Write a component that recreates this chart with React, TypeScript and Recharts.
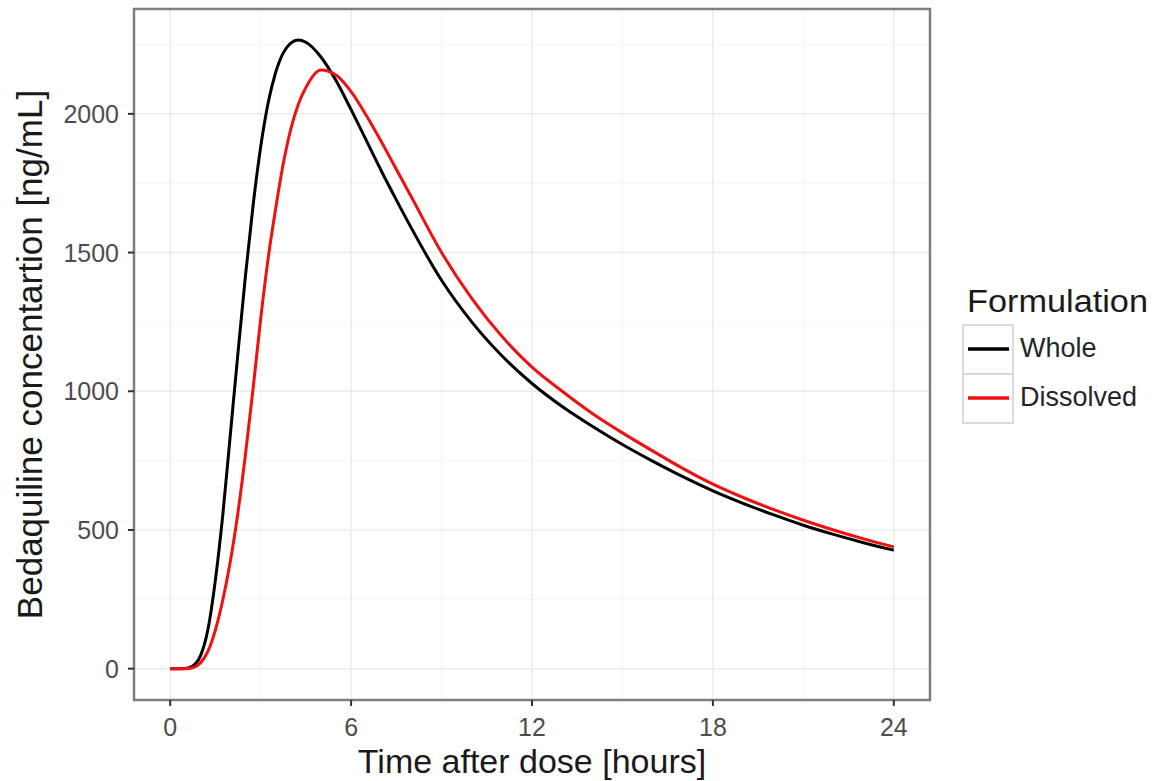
import React from "react";
import { LineChart, Line, XAxis, YAxis, CartesianGrid, Legend, ReferenceArea } from "recharts";

// time after dose, hours
const hours = [
  0, 0.5, 0.75, 1, 1.25, 1.5, 1.75, 2, 2.25, 2.5, 2.75, 3, 3.25, 3.5, 3.75, 4, 4.25, 4.5, 5, 5.5,
  6, 6.5, 7, 7.5, 8, 9, 10, 11, 12, 13, 14, 15, 16, 17, 18, 19, 20, 21, 22, 23, 24,
];

// bedaquiline concentration, ng/mL
const whole = [
  0, 1, 10, 45, 140, 320, 560, 850, 1140, 1420, 1670, 1880, 2040, 2150, 2220, 2255, 2266, 2258, 2205, 2120,
  2015, 1905, 1795, 1690, 1588, 1400, 1250, 1128, 1028, 945, 874, 808, 748, 692, 641, 596, 555, 517, 484, 454, 427,
];
const dissolved = [
  0, 0, 3, 20, 62, 140, 250, 390, 565, 775, 1010, 1260, 1480, 1660, 1820, 1945, 2035, 2095, 2158, 2140,
  2080, 1995, 1900, 1800, 1700, 1500, 1335, 1198, 1087, 1000, 920, 850, 785, 722, 665, 617, 574, 535, 500, 468, 439,
];

const seriesNames = ["Whole", "Dissolved"];
const xTicks = [0, 6, 12, 18, 24];
const yTicks = [0, 500, 1000, 1500, 2000];
const xMinor = [3, 9, 15, 21];
const yMinor = [250, 750, 1250, 1750, 2250];

const FONT = '"Liberation Sans", Arial, Helvetica, sans-serif';
const X_MIN = -1.2;
const X_MAX = 25.2;
const Y_MIN = -113;
const Y_MAX = 2378;

const data = hours.map((t, i) => ({ time: t, whole: whole[i], dissolved: dissolved[i] }));

const XTick = (props: any) => {
  const { x, y, payload } = props;
  return (
    <text x={x} y={y + 28} textAnchor="middle" fontSize={25} fill="#4d4d4d" fontFamily={FONT}>
      {payload.value}
    </text>
  );
};

const YTick = (props: any) => {
  const { x, y, payload } = props;
  return (
    <text x={x} y={y + 9} textAnchor="end" fontSize={25} fill="#4d4d4d" fontFamily={FONT}>
      {payload.value}
    </text>
  );
};

const XTitle = (props: any) => {
  const vb = props.viewBox || {};
  return (
    <text x={vb.x + vb.width / 2} y={773} textAnchor="middle" fontSize={34} fill="#1a1a1a" fontFamily={FONT}>
      Time after dose [hours]
    </text>
  );
};

const YTitle = (props: any) => {
  const vb = props.viewBox || {};
  const cy = vb.y + vb.height / 2;
  return (
    <text
      transform={`translate(42, ${cy}) rotate(-90)`}
      textAnchor="middle"
      fontSize={35}
      fill="#1a1a1a"
      fontFamily={FONT}
    >
      Bedaquiline concentartion [ng/mL]
    </text>
  );
};

const LegendBox = (props: any) => {
  const items = [...(props.payload || [])].sort(
    (a: any, b: any) => seriesNames.indexOf(a.value) - seriesNames.indexOf(b.value)
  );
  return (
    <svg width={194} height={150} style={{ display: "block" }}>
      <text x={7} y={32} fontSize={31} textLength={181} lengthAdjust="spacingAndGlyphs" fill="#1a1a1a" fontFamily={FONT}>
        Formulation
      </text>
      {items.map((item: any, i: number) => {
        const top = 45 + i * 49;
        return (
          <g key={item.value}>
            <rect x={3} y={top} width={50} height={49} fill="#fff" stroke="#cfcfcf" strokeWidth={1.5} />
            <line x1={8} x2={49} y1={top + 24} y2={top + 24} stroke={item.color} strokeWidth={3.5} />
            <text x={60} y={top + 32} fontSize={27} fill="#262626" fontFamily={FONT}>
              {item.value}
            </text>
          </g>
        );
      })}
    </svg>
  );
};

export default function App() {
  return (
    <div style={{ position: "absolute", left: 0, top: 0, background: "#fff" }}>
      <LineChart width={1154} height={781} data={data} margin={{ top: 9, right: 224, bottom: 0, left: 0 }}>
        <CartesianGrid verticalValues={xMinor} horizontalValues={yMinor} stroke="#f5f5f5" strokeWidth={1} />
        <CartesianGrid verticalValues={xTicks} horizontalValues={yTicks} stroke="#ebebeb" strokeWidth={1.5} />
        <XAxis
          type="number"
          dataKey="time"
          domain={[X_MIN, X_MAX]}
          ticks={xTicks}
          allowDataOverflow
          height={81}
          axisLine={false}
          tickSize={6}
          tickMargin={2}
          tickLine={{ stroke: "#333", strokeWidth: 2 }}
          tick={<XTick />}
          label={{ content: <XTitle /> }}
        />
        <YAxis
          type="number"
          domain={[Y_MIN, Y_MAX]}
          ticks={yTicks}
          allowDataOverflow
          width={134}
          axisLine={false}
          tickSize={6}
          tickMargin={9}
          tickLine={{ stroke: "#333", strokeWidth: 2 }}
          tick={<YTick />}
          label={{ content: <YTitle /> }}
        />
        <ReferenceArea
          x1={X_MIN}
          x2={X_MAX}
          y1={Y_MIN}
          y2={Y_MAX}
          fill="none"
          stroke="#7f7f7f"
          strokeWidth={2.5}
          ifOverflow="visible"
        />
        <Line
          type="monotone"
          dataKey="whole"
          name="Whole"
          stroke="#000"
          strokeWidth={3}
          dot={false}
          isAnimationActive={false}
        />
        <Line
          type="monotone"
          dataKey="dissolved"
          name="Dissolved"
          stroke="#f01010"
          strokeWidth={3}
          dot={false}
          isAnimationActive={false}
        />
        <Legend
          layout="vertical"
          align="center"
          verticalAlign="middle"
          content={<LegendBox />}
          wrapperStyle={{ left: 960, top: 280, width: 194, height: 150 }}
        />
      </LineChart>
    </div>
  );
}
